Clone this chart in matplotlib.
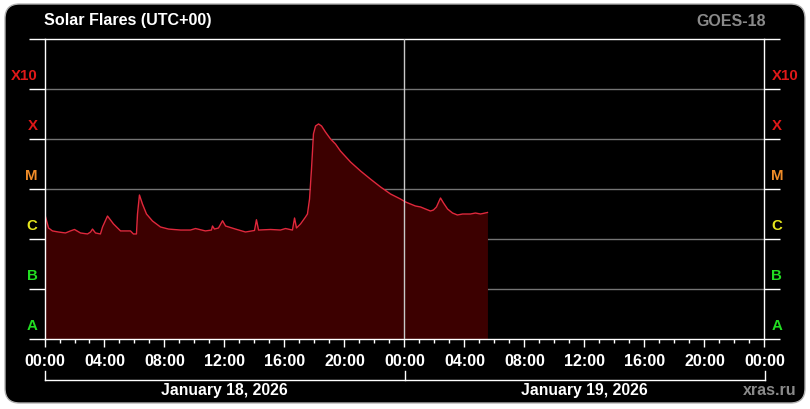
import matplotlib
matplotlib.use("Agg")
import matplotlib.pyplot as plt
from matplotlib.patches import FancyBboxPatch
from matplotlib.lines import Line2D
import matplotlib.ticker as mticker

plt.rcParams['font.family'] = ['Liberation Sans', 'DejaVu Sans']

# ---- data (hours since 2026-01-18 00:00 UTC, X-ray flux W/m^2) ----
hours = [0.00, 0.07, 0.27, 0.53, 0.93, 1.40, 1.73, 2.00, 2.40, 2.87, 3.07, 3.20,
         3.40, 3.73, 3.87, 4.20, 4.60, 5.07, 5.40, 5.73, 5.93, 6.13, 6.20, 6.33,
         6.53, 6.80, 7.20, 7.73, 8.27, 9.07, 9.73, 10.07, 10.73, 11.13, 11.20, 11.33,
         11.60, 11.87, 12.07, 12.73, 13.40, 14.00, 14.13, 14.27, 15.07, 15.73, 16.07,
         16.53, 16.67, 16.80, 17.07, 17.40, 17.53, 17.67, 17.80, 17.93, 18.07, 18.27,
         18.47, 18.73, 19.07, 19.40, 19.73, 20.40, 21.07, 21.73, 22.40, 23.07, 23.40,
         23.73, 24.07, 24.40, 24.73, 25.07, 25.40, 25.73, 25.93, 26.13, 26.40, 26.60,
         26.87, 27.20, 27.53, 27.87, 28.40, 28.73, 29.07, 29.53]
flux = [3.31e-6, 2.75e-6, 1.66e-6, 1.45e-6, 1.38e-6, 1.32e-6, 1.45e-6, 1.55e-6,
        1.32e-6, 1.26e-6, 1.38e-6, 1.58e-6, 1.32e-6, 1.26e-6, 1.74e-6, 2.88e-6,
        2.00e-6, 1.45e-6, 1.45e-6, 1.45e-6, 1.26e-6, 1.26e-6, 3.16e-6, 7.59e-6,
        5.01e-6, 3.16e-6, 2.29e-6, 1.74e-6, 1.58e-6, 1.51e-6, 1.51e-6, 1.62e-6,
        1.45e-6, 1.51e-6, 1.82e-6, 1.58e-6, 1.66e-6, 2.32e-6, 1.82e-6, 1.58e-6,
        1.38e-6, 1.48e-6, 2.43e-6, 1.51e-6, 1.55e-6, 1.51e-6, 1.62e-6, 1.51e-6,
        2.63e-6, 1.66e-6, 2.00e-6, 2.75e-6, 3.16e-6, 6.31e-6, 2.51e-5, 1.26e-4,
        1.82e-4, 2.00e-4, 1.82e-4, 1.38e-4, 1.00e-4, 7.94e-5, 5.75e-5, 3.47e-5,
        2.29e-5, 1.58e-5, 1.10e-5, 7.94e-6, 7.08e-6, 6.31e-6, 5.50e-6, 5.01e-6,
        4.57e-6, 4.37e-6, 3.98e-6, 3.63e-6, 3.80e-6, 4.37e-6, 6.61e-6, 5.25e-6,
        3.98e-6, 3.31e-6, 3.02e-6, 3.16e-6, 3.16e-6, 3.31e-6, 3.16e-6, 3.39e-6]

class_names = ['A', 'B', 'C', 'M', 'X', 'X10']
class_exps = [-8, -7, -6, -5, -4, -3]
class_colors = ['#22dd22', '#22dd22', '#e6e61e', '#f08c28', '#e01818', '#e01818']

tick_hours = list(range(0, 49, 4))
tick_labels = ['00:00', '04:00', '08:00', '12:00', '16:00', '20:00', '00:00',
               '04:00', '08:00', '12:00', '16:00', '20:00', '00:00']
day_labels = ['January 18, 2026', 'January 19, 2026']
title = 'Solar Flares (UTC+00)'
satellite = 'GOES-18'
source = 'xras.ru'

W, H = 810, 410
fig = plt.figure(figsize=(W / 100, H / 100), dpi=100, facecolor='white')

def fx(px):
    return px / W

def fy(py):
    return 1 - py / H

# rounded black background panel
bg = FancyBboxPatch((fx(5), fy(404)), fx(800), 399 / H,
                    boxstyle="round,pad=0,rounding_size=0.018",
                    transform=fig.transFigure, facecolor='black',
                    edgecolor='#b0b0b0', linewidth=1.0, mutation_aspect=W / H,
                    zorder=-10)
fig.patches.append(bg)

ax = fig.add_axes([fx(44.5), fy(340), 720 / W, 300 / H])
ax.set_zorder(1)
ax.set_facecolor('black')
ax.set_xlim(0, 48)
ax.set_yscale('log')
ax.set_ylim(1e-8, 1e-2)

# horizontal gridlines (behind fill)
for e in range(-7, -2):
    ax.axhline(10.0 ** e, color='#747474', lw=1.0, zorder=0.5)

ax.fill_between(hours, flux, 1e-8, color='#3c0000', lw=0, zorder=1)
ax.plot(hours, flux, color='#e0283c', lw=1.0, zorder=2)

# midnight divider
ax.axvline(24, color='#c8c8c8', lw=1.0, zorder=3)

for s in ax.spines.values():
    s.set_color('white')
    s.set_linewidth(1.0)

tick_len_y = 16 * 0.72
ax.yaxis.set_major_locator(mticker.FixedLocator([10.0 ** e for e in range(-8, -1)]))
ax.yaxis.set_minor_locator(mticker.NullLocator())
ax.tick_params(axis='y', which='major', direction='out', length=tick_len_y,
               width=1.0, color='white', left=True, right=True,
               labelleft=False, labelright=False)

ax.set_xticks(tick_hours)
ax.set_xticklabels(tick_labels)
ax.xaxis.set_minor_locator(mticker.MultipleLocator(1))
ax.tick_params(axis='x', which='major', direction='out', length=8 * 0.72,
               width=1.0, color='white', labelcolor='white', labelsize=11.5, pad=4.5)
ax.tick_params(axis='x', which='minor', direction='out', length=4 * 0.72,
               width=1.0, color='white')
for lbl in ax.get_xticklabels():
    lbl.set_fontweight('bold')

# class labels on both sides
ytr = ax.get_yaxis_transform()
for name, e, c in zip(class_names, class_exps, class_colors):
    yv = 10.0 ** (e + 0.28)
    ax.text(-7 / 720, yv, name, transform=ytr, ha='right', va='center',
            color=c, fontsize=10.8, fontweight='bold', clip_on=False)
    ax.text(1 + 7 / 720, yv, name, transform=ytr, ha='left', va='center',
            color=c, fontsize=10.8, fontweight='bold', clip_on=False)

# date bracket
fig.add_artist(Line2D([fx(44.5), fx(764.5)], [fy(380.5), fy(380.5)],
                      color='white', lw=1.0, transform=fig.transFigure))
for px in (44.5, 404.5, 764.5):
    fig.add_artist(Line2D([fx(px), fx(px)], [fy(372), fy(380.5)],
                          color='white', lw=1.0, transform=fig.transFigure))
for i, lab in enumerate(day_labels):
    cx = 44.5 + 360 * i + 180
    fig.text(fx(cx), fy(390.5), lab, ha='center', va='center', color='white',
             fontsize=11.3, fontweight='bold')

fig.text(fx(44), fy(20), title, ha='left', va='center', color='white',
         fontsize=11.6, fontweight='bold')
fig.text(fx(766), fy(22), satellite, ha='right', va='center', color='#8a8a8a',
         fontsize=11.5, fontweight='bold')
fig.text(fx(797), fy(391), source, ha='right', va='center', color='#8a8a8a',
         fontsize=11.5, fontweight='bold')

fig.savefig('out.png', dpi=100, facecolor='white')
